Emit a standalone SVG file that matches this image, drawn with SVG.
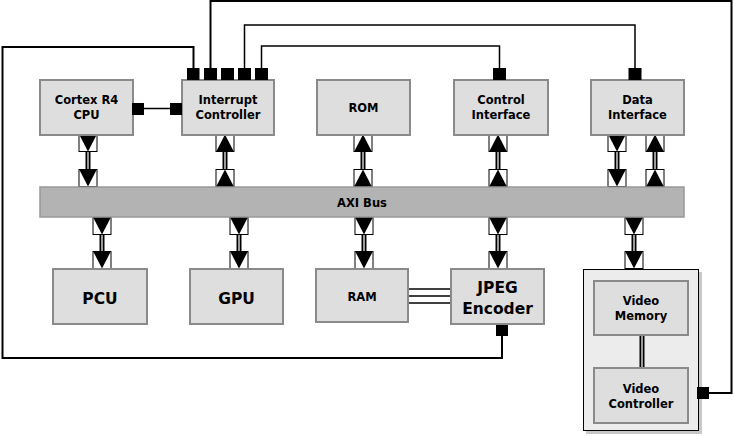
<svg xmlns="http://www.w3.org/2000/svg" xmlns:xlink="http://www.w3.org/1999/xlink" width="733" height="437" viewBox="0 0 733 437">
<style>
.node{fill:#dedede;stroke:#8a8a8a;stroke-width:2}
.bus{fill:#b3b3b3;stroke:#999;stroke-width:1.5}
.t{font-family:"DejaVu Sans","Verdana",sans-serif;font-weight:bold;font-size:11.5px;fill:#000;text-anchor:middle}
.tb{font-size:15.5px}
.port{fill:#000}
.wire{fill:none;stroke:#000;stroke-width:1.5}
.wire2{fill:none;stroke:#000;stroke-width:2}
.dblo{stroke:#000;stroke-width:5}
.dbli{stroke:#999;stroke-width:2}
</style>
<defs>
<g id="dn"><rect x="0.5" y="0.5" width="18" height="17" fill="#fff" stroke="#000"/><polygon points="1,1 18,1 9.5,17.5" fill="#000"/></g>
<g id="up"><rect x="0.5" y="0.5" width="18" height="17" fill="#fff" stroke="#000"/><polygon points="1,17 18,17 9.5,0.5" fill="#000"/></g>
</defs>
<rect width="733" height="437" fill="#fff"/>

<g id="connectors">
  <path class="wire2" d="M193.5,68 V47 H2.5 V358 H502 V336"/>
  <path class="wire2" d="M210.5,68 V1 H731.5 V393 H709"/>
  <path class="wire" d="M244.5,68 V25 H635 V68"/>
  <path class="wire" d="M261.5,68 V46 H499.5 V68"/>
  <line class="wire" x1="144" y1="108.5" x2="170" y2="108.5"/>
  <line class="wire" x1="408" y1="289" x2="451" y2="289"/>
  <line class="wire" x1="408" y1="296" x2="451" y2="296"/>
  <line class="wire" x1="408" y1="303" x2="451" y2="303"/>
  <g>
    <line class="dblo" x1="88" y1="152" x2="88" y2="169"/><line class="dbli" x1="88" y1="152" x2="88" y2="169"/>
    <line class="dblo" x1="225" y1="152" x2="225" y2="169"/><line class="dbli" x1="225" y1="152" x2="225" y2="169"/>
    <line class="dblo" x1="363" y1="152" x2="363" y2="169"/><line class="dbli" x1="363" y1="152" x2="363" y2="169"/>
    <line class="dblo" x1="498" y1="152" x2="498" y2="169"/><line class="dbli" x1="498" y1="152" x2="498" y2="169"/>
    <line class="dblo" x1="617" y1="152" x2="617" y2="169"/><line class="dbli" x1="617" y1="152" x2="617" y2="169"/>
    <line class="dblo" x1="655" y1="152" x2="655" y2="169"/><line class="dbli" x1="655" y1="152" x2="655" y2="169"/>
    <line class="dblo" x1="102" y1="235" x2="102" y2="251"/><line class="dbli" x1="102" y1="235" x2="102" y2="251"/>
    <line class="dblo" x1="239" y1="235" x2="239" y2="251"/><line class="dbli" x1="239" y1="235" x2="239" y2="251"/>
    <line class="dblo" x1="364" y1="235" x2="364" y2="251"/><line class="dbli" x1="364" y1="235" x2="364" y2="251"/>
    <line class="dblo" x1="498" y1="235" x2="498" y2="251"/><line class="dbli" x1="498" y1="235" x2="498" y2="251"/>
    <line class="dblo" x1="634" y1="235" x2="634" y2="251"/><line class="dbli" x1="634" y1="235" x2="634" y2="251"/>
  </g>
  <use href="#dn" x="78.5" y="134"/><use href="#dn" x="78.5" y="169"/>
  <use href="#up" x="215.5" y="134"/><use href="#up" x="215.5" y="169"/>
  <use href="#up" x="353.5" y="134"/><use href="#up" x="353.5" y="169"/>
  <use href="#up" x="488.5" y="134"/><use href="#up" x="488.5" y="169"/>
  <use href="#dn" x="607.5" y="134"/><use href="#dn" x="607.5" y="169"/>
  <use href="#up" x="645.5" y="134"/><use href="#up" x="645.5" y="169"/>
  <use href="#dn" x="92.5" y="217"/><use href="#dn" x="92.5" y="251"/>
  <use href="#dn" x="229.5" y="217"/><use href="#dn" x="229.5" y="251"/>
  <use href="#dn" x="354.5" y="217"/><use href="#dn" x="354.5" y="251"/>
  <use href="#dn" x="488.5" y="217"/><use href="#dn" x="488.5" y="251"/>
  <use href="#dn" x="624.5" y="217"/><use href="#dn" x="624.5" y="251"/>
</g>

<g id="bus">
  <rect class="bus" x="40" y="187" width="644" height="30"/>
  <text class="t" x="362" y="207">AXI Bus</text>
</g>

<g id="cpu">
  <rect class="node" x="40" y="80" width="93" height="55"/>
  <rect class="port" x="132" y="103" width="12" height="12"/>
  <text class="t" x="86.5" y="104">Cortex R4</text>
  <text class="t" x="86.5" y="119">CPU</text>
</g>

<g id="interrupt">
  <rect class="node" x="182" y="80" width="92" height="55"/>
  <rect class="port" x="170" y="103" width="12" height="12"/>
  <rect class="port" x="187" y="68" width="12.5" height="12"/>
  <rect class="port" x="204" y="68" width="13" height="12"/>
  <rect class="port" x="221" y="68" width="13" height="12"/>
  <rect class="port" x="238" y="68" width="13" height="12"/>
  <rect class="port" x="255" y="68" width="13" height="12"/>
  <text class="t" x="228" y="104">Interrupt</text>
  <text class="t" x="228" y="119">Controller</text>
</g>

<g id="rom">
  <rect class="node" x="317" y="80" width="93" height="55"/>
  <text class="t" x="363.5" y="112">ROM</text>
</g>

<g id="control">
  <rect class="node" x="454" y="80" width="94" height="55"/>
  <rect class="port" x="493" y="68" width="13" height="12"/>
  <text class="t" x="501" y="104">Control</text>
  <text class="t" x="501" y="119">Interface</text>
</g>

<g id="data">
  <rect class="node" x="591" y="80" width="93" height="55"/>
  <rect class="port" x="628.5" y="68" width="13" height="12"/>
  <text class="t" x="637.5" y="104">Data</text>
  <text class="t" x="637.5" y="119">Interface</text>
</g>

<g id="pcu">
  <rect class="node" x="53" y="269" width="94" height="55"/>
  <text class="t tb" x="100" y="304">PCU</text>
</g>

<g id="gpu">
  <rect class="node" x="190" y="269" width="93" height="55"/>
  <text class="t tb" x="236.5" y="304">GPU</text>
</g>

<g id="ram">
  <rect class="node" x="316" y="269" width="92" height="53"/>
  <text class="t" x="362" y="301">RAM</text>
</g>

<g id="jpeg">
  <rect class="node" x="451" y="269" width="93" height="55"/>
  <rect class="port" x="496" y="325" width="12" height="11"/>
  <text class="t tb" x="497.5" y="293">JPEG</text>
  <text class="t tb" x="497.5" y="314">Encoder</text>
</g>

<g id="video">
  <rect x="586" y="272" width="116" height="162" fill="#c8c8c8"/>
  <rect x="583.5" y="269.5" width="115" height="161" fill="#ececec" stroke="#000" stroke-width="1"/>
  <rect class="port" x="697" y="387" width="12" height="12"/>
  <line class="dblo" x1="642" y1="335" x2="642" y2="368"/><line class="dbli" x1="642" y1="335" x2="642" y2="368"/>
  <g id="video-memory">
    <rect class="node" x="594" y="281" width="94" height="54"/>
    <text class="t" x="641" y="305">Video</text>
    <text class="t" x="641" y="320">Memory</text>
  </g>
  <g id="video-controller">
    <rect class="node" x="594" y="368" width="94" height="55"/>
    <text class="t" x="641" y="393">Video</text>
    <text class="t" x="641" y="408">Controller</text>
  </g>
</g>
</svg>
